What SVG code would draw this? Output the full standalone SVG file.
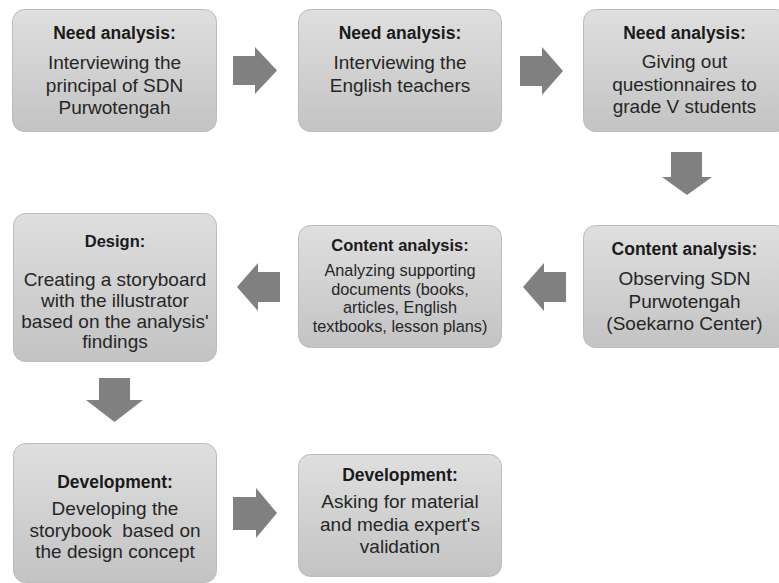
<svg xmlns="http://www.w3.org/2000/svg" width="779" height="583" viewBox="0 0 779 583">
  <defs>
    <linearGradient id="boxFill" x1="0" y1="0" x2="0" y2="1">
      <stop offset="0" stop-color="#dfdfdf"/>
      <stop offset="1" stop-color="#c3c3c3"/>
    </linearGradient>
  </defs>
  <style>
    .box { fill: url(#boxFill); stroke: #bcbcbc; stroke-width: 1; }
    .arrow { fill: #808080; }
    text { font-family: "Liberation Sans", Arial, sans-serif; fill: #262626; text-anchor: middle; }
    .hd { font-weight: bold; font-size: 17.5px; fill: #1a1a1a; }
    .bd { font-size: 19px; }
    .hd-s { font-weight: bold; font-size: 16.5px; fill: #1a1a1a; }
    .bd-s { font-size: 16.3px; }
  </style>
  <rect width="779" height="583" fill="#ffffff"/>

  <!-- connectors: block arrows between steps -->
  <g id="connectors">
    <polygon class="arrow" points="233,56 255,56 255,47 277,70.5 255,94 255,85 233,85"/>
    <polygon class="arrow" points="520,56 542,56 542,47 563,71 542,95 542,86 520,86"/>
    <polygon class="arrow" points="671,152 702,152 702,177 712,177 687,195 662,177 671,177"/>
    <polygon class="arrow" points="566,272 544,272 544,263 523,287 544,311 544,302 566,302"/>
    <polygon class="arrow" points="280,272 258,272 258,263 237,287 258,311 258,302 280,302"/>
    <polygon class="arrow" points="99,378 130,378 130,400 143,400 114.5,422 86,400 99,400"/>
    <polygon class="arrow" points="233,497 256,497 256,488 277,513 256,538 256,530 233,530"/>
  </g>

  <g id="need-principal">
    <rect class="box" x="12.5" y="9.5" width="204" height="122" rx="12"/>
    <text class="hd" x="114.5" y="39">Need analysis:</text>
    <text class="bd" x="114.5" y="69">Interviewing the</text>
    <text class="bd" x="114.5" y="92">principal of SDN</text>
    <text class="bd" x="114.5" y="114">Purwotengah</text>
  </g>

  <g id="need-teachers">
    <rect class="box" x="298.5" y="9.5" width="203" height="122" rx="12"/>
    <text class="hd" x="400" y="39">Need analysis:</text>
    <text class="bd" x="400" y="69">Interviewing the</text>
    <text class="bd" x="400" y="92">English teachers</text>
  </g>

  <g id="need-questionnaires">
    <rect class="box" x="583.5" y="9.5" width="205" height="122" rx="12"/>
    <text class="hd" x="684.5" y="39">Need analysis:</text>
    <text class="bd" x="684.5" y="68">Giving out</text>
    <text class="bd" x="684.5" y="90.5">questionnaires to</text>
    <text class="bd" x="684.5" y="113">grade V students</text>
  </g>

  <g id="content-observing">
    <rect class="box" x="583.5" y="225.5" width="205" height="122" rx="12"/>
    <text class="hd" x="684.5" y="255">Content analysis:</text>
    <text class="bd" x="684.5" y="285">Observing SDN</text>
    <text class="bd" x="684.5" y="307.5">Purwotengah</text>
    <text class="bd" x="684.5" y="330">(Soekarno Center)</text>
  </g>

  <g id="content-documents">
    <rect class="box" x="298.5" y="225.5" width="203" height="122" rx="12"/>
    <text class="hd-s" x="400" y="251">Content analysis:</text>
    <text class="bd-s" x="400" y="276">Analyzing supporting</text>
    <text class="bd-s" x="400" y="294.5">documents (books,</text>
    <text class="bd-s" x="400" y="313">articles, English</text>
    <text class="bd-s" x="400" y="331.5">textbooks, lesson plans)</text>
  </g>

  <g id="design">
    <rect class="box" x="13.5" y="213.5" width="203" height="148" rx="12"/>
    <text class="hd-s" x="115" y="247">Design:</text>
    <text class="bd" x="115" y="286">Creating a storyboard</text>
    <text class="bd" x="115" y="307">with the illustrator</text>
    <text class="bd" x="115" y="328">based on the analysis'</text>
    <text class="bd" x="115" y="348">findings</text>
  </g>

  <g id="development-storybook">
    <rect class="box" x="13.5" y="443.5" width="203" height="139" rx="12"/>
    <text class="hd" x="115" y="488">Development:</text>
    <text class="bd" x="115" y="515">Developing the</text>
    <text class="bd" x="115" y="537">storybook&#160; based on</text>
    <text class="bd" x="115" y="558">the design concept</text>
  </g>

  <g id="development-validation">
    <rect class="box" x="298.5" y="454.5" width="203" height="122" rx="12"/>
    <text class="hd" x="400" y="481">Development:</text>
    <text class="bd" x="400" y="508">Asking for material</text>
    <text class="bd" x="400" y="531">and media expert's</text>
    <text class="bd" x="400" y="553">validation</text>
  </g>
</svg>
